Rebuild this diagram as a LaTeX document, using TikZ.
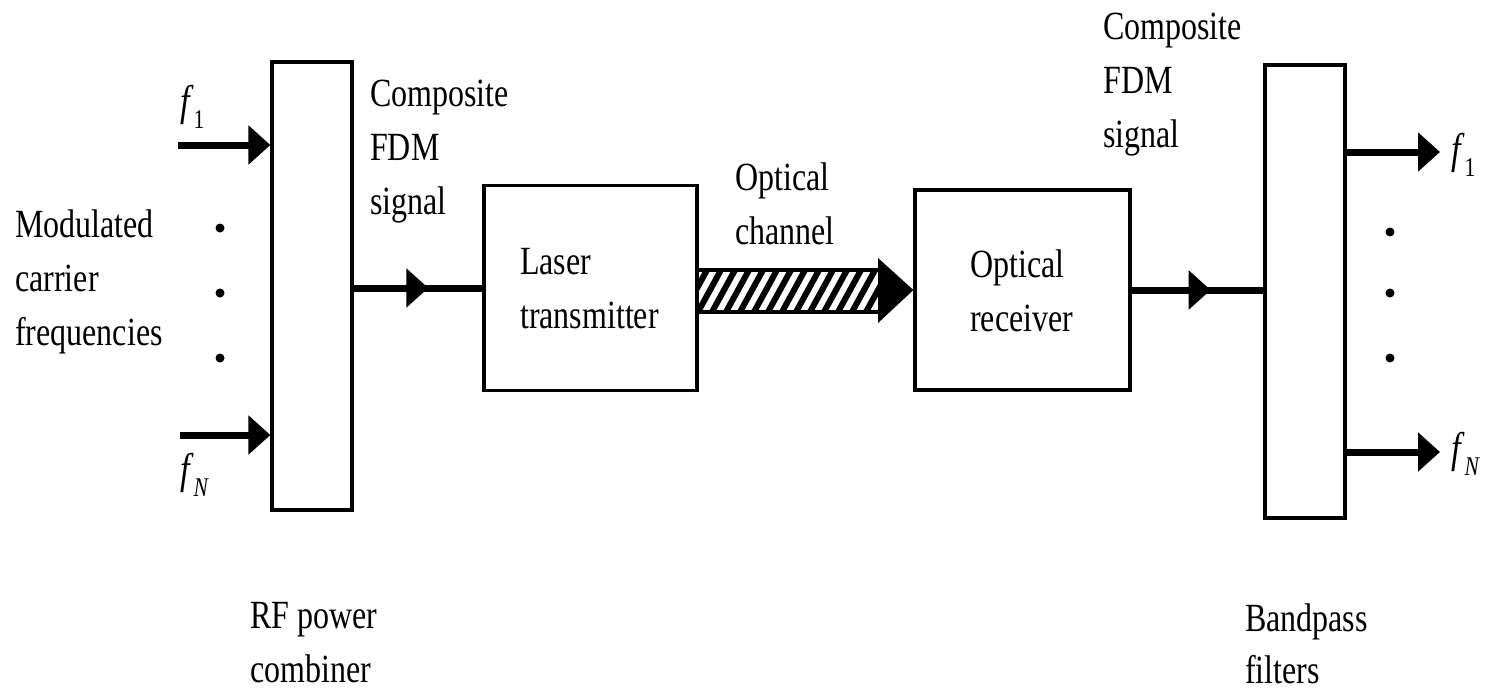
\documentclass[tikz,border=0pt]{standalone}
\usepackage{fontspec}
\setmainfont{Liberation Serif}[FakeStretch=0.8]
\usetikzlibrary{arrows.meta,calc}
\newcommand{\fsubup}[1]{\textit{f}\raisebox{-0.3em}{\fontsize{27}{27}\selectfont #1}}
\newcommand{\fsubit}[1]{\textit{f}\raisebox{-0.3em}{\fontsize{27}{27}\selectfont\itshape #1}}
\begin{document}
\begin{tikzpicture}[x=1pt,y=-1pt,
  blk/.style={draw,line width=3.2pt,minimum width=#1,inner sep=0pt},
  lbl/.style={inner sep=0pt,align=left,font=\fontsize{40}{54}\selectfont},
  flbl/.style={inner sep=0pt,font=\fontsize{43}{43}\selectfont},
  sig/.style={line width=7pt},
  tip/.style={-{Triangle[length=22pt,width=38pt]}},
  dot/.style={circle,fill,inner sep=0pt,minimum size=9pt}]
\useasboundingbox (0,0) rectangle (1488,691);
% blocks
\node[blk=80pt,minimum height=448pt] (comb) at (312,286) {};
\node[blk=213pt,minimum height=205pt] (laser) at (590.5,288) {};
\node[blk=215pt,minimum height=200pt] (rx) at (1022.5,290) {};
\node[blk=80pt,minimum height=453pt] (bpf) at (1305,291.5) {};
% inputs
\coordinate (i1) at (178,145);
\coordinate (iN) at (180,435);
\draw[sig,tip] (i1) -- (i1 -| comb.west);
\draw[sig,tip] (iN) -- (iN -| comb.west);
% outputs
\coordinate (o1) at (1440,152);
\coordinate (oN) at (1440,452);
\draw[sig,tip] (o1 -| bpf.east) -- (o1);
\draw[sig,tip] (oN -| bpf.east) -- (oN);
% combiner -> laser
\coordinate (a1) at (laser.west -| comb.east);
\draw[sig] (a1) -- (laser.west);
\draw[sig,tip] (a1) -- ($(a1)!0.58!(laser.west)$);
% receiver -> filters
\coordinate (a2) at (rx.east -| bpf.west);
\draw[sig] (rx.east) -- (a2);
\draw[sig,tip] (rx.east) -- ($(rx.east)!0.6!(a2)$);
% optical channel hatched arrow
\begin{scope}
  \clip (laser.east |- 0,272) rectangle (880,310);
  \foreach \i in {0,...,16} \draw[line width=6pt] (684+\i*14,312) -- ++(23,-42);
\end{scope}
\draw[line width=4pt] (laser.east |- 0,270) -- (880,270) (laser.east |- 0,312) -- (880,312);
\fill (878,258) -- (rx.west) -- (878,323) -- cycle;
% dots
\node[dot] (d1) at (220,228) {};
\node[dot] (d2) at (220,293) {};
\node[dot] (d3) at (220,358) {};
\node[dot] (e1) at (1390,232) {};
\node[dot] (e2) at (1390,293) {};
\node[dot] (e3) at (1390,358) {};
% labels
\node[lbl,anchor=north west] (mod) at (15,210) {Modulated\\carrier\\frequencies};
\node[flbl,anchor=north west] (f1l) at (180,85) {\fsubup{1}};
\node[flbl,anchor=north west] (fNl) at (180,453) {\fsubit{N}};
\node[lbl,anchor=north west] (cfdm1) at (370,80) {Composite\\FDM\\signal};
\node[lbl,anchor=north west] (oc) at (735,163) {Optical\\channel};
\node[lbl,anchor=north west] (lt) at (520,248) {Laser\\transmitter};
\node[lbl,anchor=north west] (orx) at (970,250) {Optical\\receiver};
\node[lbl,anchor=north west] (cfdm2) at (1103,13) {Composite\\FDM\\signal};
\node[lbl,anchor=north west] (rfc) at (250,602) {RF power\\combiner};
\node[lbl,anchor=north west,font=\fontsize{40}{52}\selectfont] (bpl) at (1245,604) {Bandpass\\filters};
\node[flbl,anchor=north west] (f1r) at (1451,133) {\fsubup{1}};
\node[flbl,anchor=north west] (fNr) at (1451,432) {\fsubit{N}};
\end{tikzpicture}
\end{document}
